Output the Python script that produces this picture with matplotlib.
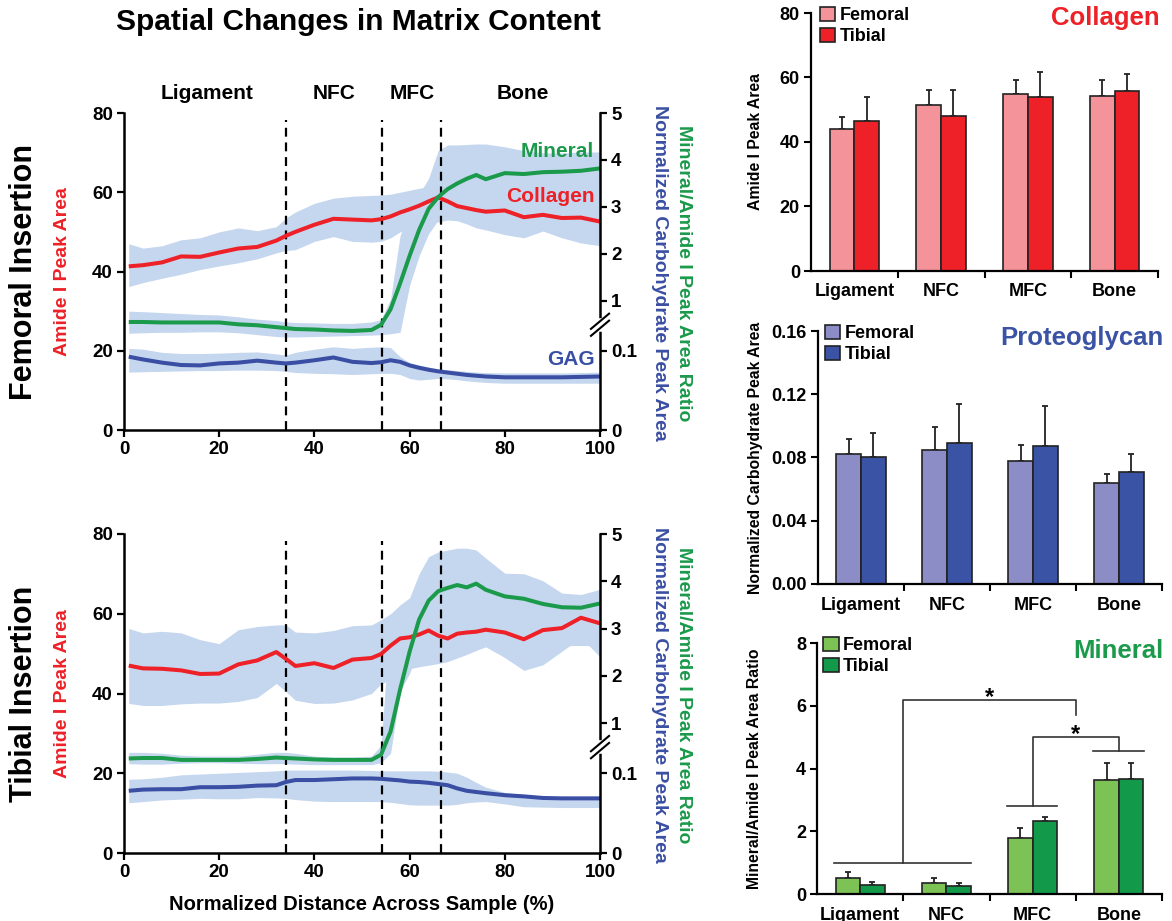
import numpy as np
import matplotlib
matplotlib.use("Agg")
import matplotlib.pyplot as plt

plt.rcParams['font.family'] = ['Liberation Sans', 'DejaVu Sans']
plt.rcParams['font.weight'] = 'bold'
plt.rcParams['axes.labelweight'] = 'bold'

RED = '#ED2127'
GREEN = '#1B9A4B'
BLUE = '#3A4FA3'
BAND = '#C5D7EE'

# ---- spatial profiles (x in % of sample width) ----
pos = [1, 4, 8, 12, 16, 20, 24, 28, 32, 34, 36, 40, 44, 48, 52, 54, 56, 58, 60,
       62, 64, 66, 68, 70, 72, 74, 76, 80, 84, 88, 92, 96, 100]

# femoral insertion: collagen (amide I peak area)
fem_col = [41.3, 41.6, 42.3, 43.8, 43.7, 44.8, 45.8, 46.2, 47.8, 49.0, 50.0, 51.8, 53.3,
           53.1, 52.9, 53.2, 53.9, 54.9, 55.7, 56.6, 57.7, 58.7, 57.7, 56.5, 56.0, 55.5,
           55.1, 55.4, 53.7, 54.3, 53.5, 53.6, 52.6]
fem_col_lo = [36.2, 37.2, 38.3, 39.3, 40.5, 41.4, 42.2, 43.2, 44.7, 45.3, 45.5, 47.6, 48.8,
              47.6, 47.4, 47.6, 48.5, 50.0, 50.5, 51.0, 52.0, 52.5, 53.0, 52.8, 52.0, 51.0,
              50.5, 49.3, 48.5, 50.2, 48.5, 47.2, 46.5]
fem_col_hi = [47.0, 45.9, 46.5, 48.0, 48.5, 50.0, 51.0, 50.3, 51.3, 53.5, 55.0, 57.2, 58.5,
              59.0, 59.2, 59.3, 59.5, 60.0, 60.5, 61.0, 61.5, 62.0, 62.0, 62.0, 62.0, 62.0,
              62.0, 62.0, 61.5, 61.0, 61.0, 61.0, 61.0]
# femoral insertion: mineral/amide I ratio
fem_min = [0.55, 0.55, 0.54, 0.54, 0.54, 0.54, 0.50, 0.48, 0.44, 0.42, 0.40, 0.39, 0.37,
           0.36, 0.38, 0.49, 0.82, 1.37, 1.96, 2.51, 2.96, 3.21, 3.38, 3.50, 3.60, 3.68,
           3.59, 3.72, 3.70, 3.74, 3.75, 3.77, 3.82]
fem_min_lo = [0.31, 0.32, 0.33, 0.33, 0.34, 0.34, 0.32, 0.28, 0.24, 0.23, 0.23, 0.24, 0.25,
              0.26, 0.27, 0.28, 0.30, 0.33, 1.33, 1.96, 2.43, 2.72, 3.06, 3.06, 3.06, 3.06,
              3.06, 3.06, 3.06, 3.06, 3.06, 3.06, 3.06]
fem_min_hi = [0.78, 0.77, 0.75, 0.73, 0.71, 0.70, 0.66, 0.61, 0.58, 0.55, 0.54, 0.53, 0.52,
              0.52, 0.55, 0.60, 1.04, 2.39, 2.89, 3.27, 3.61, 4.20, 4.32, 4.32, 4.33, 4.34,
              4.34, 4.28, 4.20, 4.15, 4.15, 4.17, 4.17]
# femoral insertion: GAG (normalized carbohydrate peak area)
fem_gag = [0.0925, 0.089, 0.085, 0.082, 0.0815, 0.084, 0.085, 0.0875, 0.085, 0.084, 0.085,
           0.088, 0.0915, 0.086, 0.0845, 0.0855, 0.088, 0.086, 0.0815, 0.0785, 0.076, 0.074,
           0.0725, 0.071, 0.0695, 0.0685, 0.0675, 0.0665, 0.0665, 0.0665, 0.0665, 0.067, 0.0675]
fem_gag_lo = [0.073, 0.0735, 0.074, 0.0745, 0.075, 0.075, 0.0755, 0.0755, 0.075, 0.074, 0.0725,
              0.0715, 0.071, 0.070, 0.071, 0.0715, 0.0715, 0.070, 0.065, 0.063, 0.064, 0.065,
              0.0645, 0.0635, 0.062, 0.061, 0.060, 0.059, 0.059, 0.059, 0.059, 0.059, 0.059]
fem_gag_hi = [0.103, 0.102, 0.098, 0.0965, 0.0965, 0.097, 0.098, 0.0985, 0.096, 0.0945, 0.098,
              0.102, 0.105, 0.103, 0.1045, 0.105, 0.104, 0.0925, 0.085, 0.082, 0.0795, 0.077,
              0.076, 0.075, 0.074, 0.073, 0.0725, 0.072, 0.072, 0.072, 0.072, 0.0725, 0.073]

# tibial insertion
tib_col = [47.0, 46.3, 46.2, 45.8, 44.9, 45.0, 47.3, 48.3, 50.4, 48.7, 46.9, 47.6, 46.4,
           48.5, 48.9, 49.9, 52.0, 53.8, 54.1, 54.8, 55.8, 54.5, 53.8, 55.0, 55.3, 55.5,
           56.0, 55.3, 53.6, 55.9, 56.4, 59.0, 57.6]
tib_col_lo = [37.5, 37.0, 37.0, 37.4, 37.6, 37.6, 38.0, 39.0, 42.5, 40.5, 38.3, 37.5, 37.6,
              38.4, 40.0, 42.4, 43.5, 44.8, 46.2, 46.7, 47.1, 47.5, 48.0, 48.9, 49.8, 50.8,
              51.7, 49.0, 45.8, 47.2, 50.6, 54.0, 49.2]
tib_col_hi = [56.3, 55.2, 55.6, 55.2, 53.5, 52.5, 56.0, 56.8, 57.2, 57.2, 55.4, 55.2, 55.8,
              57.0, 57.2, 58.5, 60.0, 61.0, 62.0, 62.0, 62.0, 62.0, 62.0, 62.0, 62.0, 62.0,
              62.0, 62.0, 62.0, 62.0, 62.0, 62.0, 62.0]
tib_min = [0.25, 0.26, 0.26, 0.22, 0.22, 0.22, 0.22, 0.24, 0.27, 0.26, 0.25, 0.23, 0.22,
           0.22, 0.22, 0.33, 0.82, 1.71, 2.51, 3.19, 3.59, 3.79, 3.86, 3.92, 3.87, 3.95,
           3.82, 3.68, 3.63, 3.52, 3.45, 3.44, 3.53]
tib_min_lo = [0.14, 0.13, 0.13, 0.15, 0.16, 0.16, 0.15, 0.14, 0.14, 0.14, 0.13, 0.12, 0.12,
              0.12, 0.12, 0.16, 0.36, 1.67, 2.05, 2.64, 2.64, 2.64, 2.64, 2.64, 2.64, 2.64,
              2.64, 2.64, 2.64, 2.64, 2.64, 2.64, 2.64]
tib_min_hi = [0.38, 0.38, 0.36, 0.32, 0.30, 0.30, 0.30, 0.34, 0.38, 0.38, 0.36, 0.30, 0.28,
              0.28, 0.30, 0.53, 3.31, 3.50, 3.65, 4.16, 4.52, 4.62, 4.66, 4.70, 4.70, 4.66,
              4.49, 4.17, 4.16, 4.01, 3.75, 3.72, 3.83]
tib_gag = [0.078, 0.0795, 0.080, 0.080, 0.0825, 0.0825, 0.083, 0.0845, 0.085, 0.089, 0.0915,
           0.0915, 0.0925, 0.0935, 0.0935, 0.093, 0.092, 0.091, 0.0895, 0.089, 0.088, 0.0865,
           0.085, 0.081, 0.078, 0.0765, 0.075, 0.0725, 0.071, 0.069, 0.0685, 0.0685, 0.0685]
tib_gag_lo = [0.063, 0.0645, 0.0665, 0.0675, 0.0685, 0.068, 0.068, 0.0695, 0.069, 0.0685, 0.067,
              0.065, 0.0645, 0.0645, 0.0645, 0.0645, 0.0635, 0.062, 0.0605, 0.060, 0.060, 0.060,
              0.060, 0.061, 0.063, 0.064, 0.0645, 0.0615, 0.058, 0.0575, 0.057, 0.057, 0.057]
tib_gag_hi = [0.0925, 0.093, 0.095, 0.098, 0.099, 0.100, 0.101, 0.102, 0.103, 0.104, 0.104,
              0.104, 0.104, 0.104, 0.1035, 0.103, 0.103, 0.103, 0.103, 0.103, 0.103, 0.1025,
              0.1015, 0.100, 0.095, 0.0885, 0.0825, 0.076, 0.073, 0.0715, 0.0705, 0.0705, 0.0705]

boundaries = [34.1, 54.3, 66.6]
regions = ['Ligament', 'NFC', 'MFC', 'Bone']
region_x = [17.5, 44.2, 60.5, 83.7]

# ---- regional averages (bar charts) ----
categories = ['Ligament', 'NFC', 'MFC', 'Bone']
col_fem = [44.0, 51.5, 55.0, 54.2]
col_fem_err = [3.7, 4.5, 4.2, 5.0]
col_tib = [46.6, 48.0, 53.8, 55.7]
col_tib_err = [7.5, 8.2, 8.0, 5.3]
pg_fem = [0.082, 0.085, 0.078, 0.064]
pg_fem_err = [0.010, 0.014, 0.010, 0.0053]
pg_tib = [0.080, 0.089, 0.0875, 0.071]
pg_tib_err = [0.0157, 0.0248, 0.025, 0.011]
min_fem = [0.50, 0.36, 1.80, 3.64]
min_fem_err = [0.19, 0.14, 0.29, 0.52]
min_tib = [0.29, 0.27, 2.32, 3.67]
min_tib_err = [0.08, 0.09, 0.14, 0.49]

fig = plt.figure(figsize=(11.72, 9.21), dpi=100)

fig.text(358 / 1172, 1 - 22 / 921, 'Spatial Changes in Matrix Content',
         ha='center', va='center', fontsize=21.5)


def profile(rect, name, col, col_lo, col_hi, mn, mn_lo, mn_hi, gag, gag_lo, gag_hi,
            top_panel):
    ax = fig.add_axes(rect)
    ax_m = ax.twinx()
    ax_g = ax.twinx()
    ax.set_xlim(0, 100)
    ax.set_ylim(0, 80)
    ax_m.set_ylim(-1.75, 5)
    ax_g.set_ylim(0, 0.4)
    tm = ax_m.transData
    tg = ax_g.transData

    # shaded +/- SD bands
    ax.fill_between(pos, col_lo, col_hi, color=BAND, lw=0, zorder=1)
    ax.fill_between(pos, mn_lo, mn_hi, color=BAND, lw=0, zorder=1, transform=tm)
    ax.fill_between(pos, gag_lo, gag_hi, color=BAND, lw=0, zorder=1, transform=tg)

    for b in boundaries:
        ax.plot([b, b], [0, 78.3], color='black', ls=(0, (4, 2.6)), lw=1.6, zorder=2)

    ax.plot(pos, col, color=RED, lw=2.9, zorder=3, solid_capstyle='butt')
    ax.plot(pos, mn, color=GREEN, lw=2.9, zorder=3, transform=tm, solid_capstyle='butt')
    ax.plot(pos, gag, color=BLUE, lw=2.9, zorder=3, transform=tg, solid_capstyle='butt')
    ax.set_xlim(0, 100)
    ax.set_ylim(0, 80)

    # axes styling
    ax.spines[['top', 'right']].set_visible(False)
    ax_m.spines[:].set_visible(False)
    for s in ['top', 'left', 'bottom']:
        ax_g.spines[s].set_visible(False)
    for s in ['left', 'bottom']:
        ax.spines[s].set_linewidth(1.8)
    ax_g.spines['right'].set_linewidth(1.8)

    ax.set_xticks([0, 20, 40, 60, 80, 100])
    ax.set_yticks([0, 20, 40, 60, 80])
    ax.tick_params(direction='out', length=5, width=1.6, labelsize=13.5, pad=3)
    ax_m.set_yticks([1, 2, 3, 4, 5])
    ax_m.set_yticklabels(['1', '2', '3', '4', '5'])
    ax_g.set_yticks([0, 0.1])
    ax_g.set_yticklabels(['0', '0.1'])
    for a in (ax_m, ax_g):
        a.tick_params(direction='out', length=5, width=1.6, labelsize=13.5, pad=3)

    # axis break marker on the right spine
    yb = 0.332
    ax_g.plot([1, 1], [yb - 0.012, yb + 0.012], transform=ax_g.transAxes,
              color='white', lw=4, clip_on=False, zorder=10)
    for off in (-0.011, 0.011):
        ax_g.plot([1 - 0.019, 1 + 0.019], [yb + off - 0.024, yb + off + 0.024],
                  transform=ax_g.transAxes, color='black', lw=1.5,
                  clip_on=False, zorder=11)

    # axis titles
    ax.text(-0.211, 0.5, name, rotation=90, fontsize=22, ha='center', va='center',
            transform=ax.transAxes)
    ax.text(-0.130, 0.5, 'Amide I Peak Area', rotation=90, fontsize=14, color=RED,
            ha='center', va='center', transform=ax.transAxes)
    ax.text(1.126, 0.495, 'Normalized Carbohydrate Peak Area', rotation=270,
            fontsize=14, color=BLUE, ha='center', va='center', transform=ax.transAxes)
    ax.text(1.176, 0.495, 'Mineral/Amide I Peak Area Ratio', rotation=270,
            fontsize=14, color=GREEN, ha='center', va='center', transform=ax.transAxes)

    if top_panel:
        for r, rx in zip(regions, region_x):
            ax.text(rx, 85.0, r, ha='center', va='center', fontsize=15, clip_on=False)
        ax.text(98.8, 70.3, 'Mineral', color=GREEN, ha='right', va='center',
                fontsize=15, zorder=4)
        ax.text(98.8, 59.0, 'Collagen', color=RED, ha='right', va='center',
                fontsize=15, zorder=4)
        ax.text(98.8, 17.9, 'GAG', color=BLUE, ha='right', va='center',
                fontsize=15, zorder=4)
    else:
        ax.text(0.5, -0.163, 'Normalized Distance Across Sample (%)', ha='center',
                va='center', fontsize=14.5, transform=ax.transAxes)
    return ax


profile([124 / 1172, 1 - 430 / 921, 476 / 1172, 317 / 921], 'Femoral Insertion',
        fem_col, fem_col_lo, fem_col_hi, fem_min, fem_min_lo, fem_min_hi,
        fem_gag, fem_gag_lo, fem_gag_hi, True)
profile([124 / 1172, 1 - 853 / 921, 476 / 1172, 319 / 921], 'Tibial Insertion',
        tib_col, tib_col_lo, tib_col_hi, tib_min, tib_min_lo, tib_min_hi,
        tib_gag, tib_gag_lo, tib_gag_hi, False)


def bar_panel(rect, fem, fem_err, tib, tib_err, c_fem, c_tib, ymax, yticks, ylabels,
              ylabel, ylabel_x, title, title_color, title_y, legend_x):
    ax = fig.add_axes(rect)
    x = np.arange(len(categories))
    w = 0.285
    ax.bar(x - w / 2, fem, w, color=c_fem, edgecolor='#222222', lw=1.2,
           label='Femoral', zorder=2)
    ax.bar(x + w / 2, tib, w, color=c_tib, edgecolor='#222222', lw=1.2,
           label='Tibial', zorder=2)
    zeros = np.zeros(len(categories))
    ax.errorbar(x - w / 2, fem, yerr=[zeros, fem_err], fmt='none', ecolor='#222222',
                elinewidth=1.3, capsize=2, capthick=1.3, zorder=1)
    ax.errorbar(x + w / 2, tib, yerr=[zeros, tib_err], fmt='none', ecolor='#222222',
                elinewidth=1.3, capsize=2, capthick=1.3, zorder=1)
    ax.set_xlim(-0.5, 3.5)
    ax.set_ylim(0, ymax)
    ax.spines[['top', 'right']].set_visible(False)
    ax.spines[['left', 'bottom']].set_linewidth(1.6)
    ax.set_yticks(yticks)
    ax.set_yticklabels(ylabels)
    ax.set_xticks([0.5, 1.5, 2.5, 3.5])
    ax.set_xticklabels([])
    ax.set_xticks(x, minor=True)
    ax.set_xticklabels(categories, minor=True)
    ax.tick_params(axis='x', which='major', direction='out', length=5, width=1.5)
    ax.tick_params(axis='x', which='minor', length=0, pad=9, labelsize=13)
    ax.tick_params(axis='y', direction='out', length=5, width=1.5, labelsize=13, pad=3)
    ax.text(ylabel_x, 0.5, ylabel, rotation=90, ha='center', va='center',
            fontsize=11.3, transform=ax.transAxes)
    ax.text(1.005, title_y, title, color=title_color, ha='right', va='center',
            fontsize=18.5, transform=ax.transAxes)
    ax.legend(loc='upper left', bbox_to_anchor=(legend_x, 1.025), frameon=False,
              fontsize=13, handlelength=0.85, handleheight=0.85, handletextpad=0.25,
              labelspacing=0.2, borderaxespad=0, borderpad=0)
    return ax


bar_panel([811 / 1172, 1 - 271 / 921, 347 / 1172, 258 / 921], col_fem, col_fem_err,
          col_tib, col_tib_err, '#F4939A', '#ED2127', 80, [0, 20, 40, 60, 80],
          ['0', '20', '40', '60', '80'], 'Amide I Peak Area', -0.161,
          'Collagen', '#ED2127', 0.98, 0.025)
bar_panel([818 / 1172, 1 - 584 / 921, 344 / 1172, 253 / 921], pg_fem, pg_fem_err,
          pg_tib, pg_tib_err, '#8C8DC6', '#3A53A4', 0.16, [0, 0.04, 0.08, 0.12, 0.16],
          ['0.00', '0.04', '0.08', '0.12', '0.16'], 'Normalized Carbohydrate Peak Area',
          -0.183, 'Proteoglycan', '#3A53A4', 0.972, 0.02)
axm = bar_panel([817 / 1172, 1 - 894 / 921, 345 / 1172, 251 / 921], min_fem, min_fem_err,
                min_tib, min_tib_err, '#7CC254', '#129A4A', 8, [0, 2, 4, 6, 8],
                ['0', '2', '4', '6', '8'], 'Mineral/Amide I Peak Area Ratio', -0.18,
                'Mineral', '#1B9A4B', 0.968, 0.018)

# significance brackets
br = dict(color='#333333', lw=1.2, zorder=3)
axm.plot([-0.30, 1.29], [1.0, 1.0], **br)
axm.plot([0.5, 0.5, 2.5, 2.5], [1.0, 6.18, 6.18, 5.7], **br)
axm.text(1.5, 6.25, '*', ha='center', va='center', fontsize=17)
axm.plot([1.70, 2.28], [2.81, 2.81], **br)
axm.plot([2.0, 2.0, 3.0, 3.0], [2.81, 5.0, 5.0, 4.56], **br)
axm.plot([2.70, 3.29], [4.56, 4.56], **br)
axm.text(2.5, 5.07, '*', ha='center', va='center', fontsize=17)

fig.savefig('out.png', dpi=100)
